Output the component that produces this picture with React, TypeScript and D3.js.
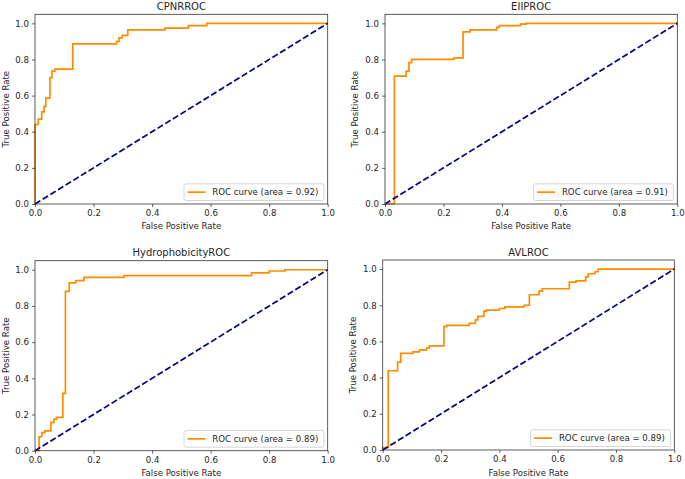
import React, { useEffect, useRef } from "react";
import { scaleLinear, axisBottom, axisLeft, select, line, curveStepAfter, format } from "d3";

const titles = ["CPNRROC", "EIIPROC", "HydrophobicityROC", "AVLROC"];
const areas = ["0.92", "0.91", "0.89", "0.89"];
const tickValues = [0, 0.2, 0.4, 0.6, 0.8, 1.0];

const cpnrFpr = [0, 0, 0.011, 0.023, 0.031, 0.037, 0.051, 0.058, 0.068, 0.129, 0.279, 0.287, 0.298, 0.317, 0.444, 0.524, 0.587, 1];
const cpnrTpr = [0, 0.44, 0.47, 0.51, 0.54, 0.586, 0.7, 0.736, 0.747, 0.886, 0.9, 0.92, 0.933, 0.964, 0.974, 0.987, 1, 1];

const eiiFpr = [0, 0.032, 0.032, 0.072, 0.082, 0.091, 0.236, 0.267, 0.291, 0.382, 0.391, 0.464, 0.482, 1];
const eiiTpr = [0, 0, 0.708, 0.736, 0.783, 0.8, 0.809, 0.953, 0.964, 0.978, 0.987, 0.996, 1, 1];

const hydFpr = [0, 0.014, 0.023, 0.034, 0.054, 0.065, 0.074, 0.095, 0.104, 0.117, 0.139, 0.167, 0.304, 0.74, 0.8, 0.854, 1];
const hydTpr = [0, 0.077, 0.1, 0.11, 0.157, 0.175, 0.184, 0.317, 0.88, 0.928, 0.94, 0.958, 0.967, 0.983, 0.993, 1, 1];

const avlFpr = [0, 0, 0.019, 0.051, 0.062, 0.103, 0.126, 0.151, 0.16, 0.21, 0.219, 0.297, 0.318, 0.326, 0.347, 0.356, 0.4, 0.419, 0.485, 0.503, 0.536, 0.547, 0.64, 0.663, 0.696, 0.705, 0.728, 0.739, 1];
const avlTpr = [0, 0.013, 0.438, 0.486, 0.534, 0.542, 0.553, 0.564, 0.575, 0.682, 0.689, 0.7, 0.719, 0.739, 0.767, 0.773, 0.782, 0.791, 0.8, 0.858, 0.878, 0.891, 0.928, 0.935, 0.957, 0.974, 0.985, 1, 1];

const fprs = [cpnrFpr, eiiFpr, hydFpr, avlFpr];
const tprs = [cpnrTpr, eiiTpr, hydTpr, avlTpr];

// axes boxes
const boxes = [
  { left: 35, right: 327.7, top: 14.3, bottom: 204, ylabelX: 9 },
  { left: 385, right: 677.3, top: 14.3, bottom: 204, ylabelX: 358 },
  { left: 35, right: 327.7, top: 260.7, bottom: 450.7, ylabelX: 9 },
  { left: 382.7, right: 674.3, top: 260, bottom: 450, ylabelX: 356.3 }
];

const font = "DejaVu Sans, sans-serif";
const textColor = "#262626";

function RocPanel({ idx }: { idx: number }) {
  const box = boxes[idx];
  const w = box.right - box.left;
  const h = box.bottom - box.top;
  const xAxisRef = useRef<SVGGElement>(null);
  const yAxisRef = useRef<SVGGElement>(null);

  const x = scaleLinear().domain([0, 1]).range([0, w]);
  const y = scaleLinear().domain([0, 1.05]).range([h, 0]);

  const pts = fprs[idx].map((f, i) => [f, tprs[idx][i]] as [number, number]);
  const roc = line<[number, number]>()
    .x(d => x(d[0]))
    .y(d => y(d[1]))
    .curve(curveStepAfter);
  const diag = line<[number, number]>()
    .x(d => x(d[0]))
    .y(d => y(d[1]));

  useEffect(() => {
    const fmt = format(".1f");
    const xa = axisBottom(x).tickValues(tickValues).tickFormat(fmt as any).tickSize(3).tickPadding(3).tickSizeOuter(0);
    const ya = axisLeft(y).tickValues(tickValues).tickFormat(fmt as any).tickSize(3).tickPadding(3).tickSizeOuter(0);
    for (const [ref, ax] of [[xAxisRef, xa], [yAxisRef, ya]] as any) {
      const g = select(ref.current);
      g.call(ax);
      g.select(".domain").remove();
      g.selectAll(".tick line").attr("stroke", "#222").attr("stroke-width", 0.7);
      g.selectAll(".tick text")
        .attr("fill", textColor)
        .style("font-family", font)
        .style("font-size", "8.6px");
    }
  }, [idx]);

  const legW = 140;
  const legH = 16.7;
  const legX = w - 3.7 - legW;
  const legY = h - 3.5 - legH;

  return (
    <g transform={`translate(${box.left},${box.top})`}>
      <text x={w / 2} y={-4.5} textAnchor="middle" fontFamily={font} fontSize={10} fill={textColor}>
        {titles[idx]}
      </text>
      <path d={roc(pts) || ""} fill="none" stroke="#ff8c00" strokeWidth={1.7} />
      <path d={diag([[0, 0], [1, 1]]) || ""} fill="none" stroke="#000080" strokeWidth={1.7} strokeDasharray="6.3,2.7" />
      <rect x={0} y={0} width={w} height={h} fill="none" stroke="#333" strokeWidth={0.8} />
      <g ref={xAxisRef} transform={`translate(0,${h})`} />
      <g ref={yAxisRef} />
      <text x={w / 2} y={h + 25.5} textAnchor="middle" fontFamily={font} fontSize={8.6} fill={textColor}>
        False Positive Rate
      </text>
      <text
        transform={`translate(${box.ylabelX - box.left},${h / 2}) rotate(-90)`}
        textAnchor="middle"
        fontFamily={font}
        fontSize={8.6}
        fill={textColor}
      >
        True Positive Rate
      </text>
      <g transform={`translate(${legX},${legY})`}>
        <rect x={0} y={0} width={legW} height={legH} rx={2} fill="white" fillOpacity={0.8} stroke="#cccccc" strokeWidth={0.8} />
        <line x1={3.5} x2={21.5} y1={legH / 2} y2={legH / 2} stroke="#ff8c00" strokeWidth={1.7} />
        <text x={28.3} y={legH / 2 + 3.1} fontFamily={font} fontSize={8.6} fill={textColor}>
          ROC curve (area = {areas[idx]})
        </text>
      </g>
    </g>
  );
}

export default function App() {
  return (
    <svg width={685} height={479} style={{ position: "absolute", left: 0, top: 0, background: "white" }}>
      {titles.map((t, i) => (
        <RocPanel key={t} idx={i} />
      ))}
    </svg>
  );
}
